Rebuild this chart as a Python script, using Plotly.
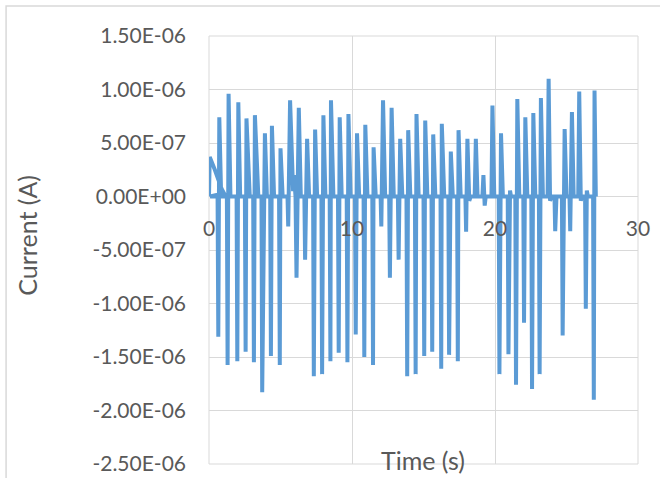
import plotly.graph_objects as go

# Recorded current trace: initial relaxation, then a train of paired
# negative/positive switching spikes separated by a flat baseline.
time_s = [
    0.00, 0.05, 0.42, 0.65, 0.88, 1.05, 0.08,
    0.60, 0.65, 0.72, 0.85,
    1.25, 1.30, 1.37, 1.50,
    1.93, 1.98, 2.05, 2.18,
    2.51, 2.56, 2.62, 2.85,
    3.09, 3.14, 3.21, 3.45,
    3.67, 3.72, 3.91, 4.05,
    4.28, 4.33, 4.40, 4.55,
    4.90, 4.95, 5.00, 5.15,
    5.49, 5.54, 5.67, 5.88, 5.95, 6.05,
    6.12, 6.28, 6.42,
    6.67, 6.72, 6.86, 7.00,
    7.28, 7.33, 7.42, 7.56,
    7.86, 7.91, 8.00, 8.14,
    8.44, 8.49, 8.53, 8.70,
    9.02, 9.07, 9.14, 9.28,
    9.63, 9.68, 9.75, 9.90,
    10.21, 10.26, 10.35, 10.50,
    10.81, 10.86, 10.93, 11.08,
    11.42, 11.47, 11.51, 11.66,
    12.00, 12.05, 12.17, 12.32,
    12.60, 12.65, 12.77, 12.92,
    13.21, 13.26, 13.37, 13.52,
    13.81, 13.86, 13.93, 14.08,
    14.40, 14.45, 14.51, 14.66,
    15.00, 15.05, 15.12, 15.27,
    15.56, 15.61, 15.68, 15.83,
    16.19, 16.24, 16.28, 16.45,
    16.74, 16.79, 16.91, 17.05,
    17.35, 17.40, 17.45, 17.60,
    17.93, 17.98, 18.07, 18.20, 18.30,
    18.58, 18.66, 18.78,
    19.12, 19.19, 19.24, 19.28, 19.35,
    19.75, 19.82, 19.95,
    20.26, 20.31, 20.42, 20.55,
    20.89, 20.94, 21.05, 21.12,
    21.42, 21.47, 21.56, 21.70,
    21.98, 22.03, 22.12, 22.26,
    22.54, 22.59, 22.68, 22.82,
    23.07, 23.12, 23.21, 23.35,
    23.68, 23.75, 23.85, 23.95,
    24.16, 24.21, 24.30,
    24.68, 24.73, 24.87, 25.00,
    25.21, 25.26, 25.38, 25.50,
    25.82, 25.89, 26.00, 26.08,
    26.30, 26.35, 26.42, 26.50,
    26.86, 26.91, 26.96, 27.05, 27.08,
]

current_a = [
    0.0, 3.7e-7, 2.45e-7, 1.5e-7, 0.72e-7, 0.3e-7, 0.0,
    0.0, -1.31e-6, 7.4e-7, 0.0,
    0.0, -1.575e-6, 9.6e-7, 0.0,
    0.0, -1.54e-6, 8.8e-7, 0.0,
    0.0, -1.45e-6, 7.3e-7, 0.0,
    0.0, -1.55e-6, 7.6e-7, 0.0,
    0.0, -1.83e-6, 5.9e-7, 0.0,
    0.0, -1.49e-6, 6.6e-7, 0.0,
    0.0, -1.575e-6, 4.5e-7, 0.0,
    0.0, -2.8e-7, 9.0e-7, 0.5e-7, 2.0e-7, 0.0,
    -7.6e-7, 8.3e-7, 0.0,
    0.0, -5.9e-7, 5.4e-7, 0.0,
    0.0, -1.68e-6, 6.25e-7, 0.0,
    0.0, -1.66e-6, 7.6e-7, 0.0,
    0.0, -1.54e-6, 9.0e-7, 0.0,
    0.0, -1.46e-6, 7.4e-7, 0.0,
    0.0, -1.55e-6, 7.7e-7, 0.0,
    0.0, -1.29e-6, 5.9e-7, 0.0,
    0.0, -1.50e-6, 6.7e-7, 0.0,
    0.0, -1.575e-6, 4.6e-7, 0.0,
    0.0, -2.8e-7, 9.0e-7, 0.0,
    0.0, -7.6e-7, 8.3e-7, 0.0,
    0.0, -5.9e-7, 5.4e-7, 0.0,
    0.0, -1.68e-6, 6.2e-7, 0.0,
    0.0, -1.66e-6, 7.7e-7, 0.0,
    0.0, -1.49e-6, 7.1e-7, 0.0,
    0.0, -1.45e-6, 5.8e-7, 0.0,
    0.0, -1.61e-6, 6.8e-7, 0.0,
    0.0, -1.48e-6, 4.2e-7, 0.0,
    0.0, -1.54e-6, 6.2e-7, 0.0,
    0.0, -3.3e-7, 5.4e-7, -0.4e-7, 0.0,
    0.0, 5.4e-7, 0.0,
    0.0, 2.0e-7, 0.0, -0.85e-7, 0.0,
    0.0, 8.5e-7, 0.0,
    0.0, -1.66e-6, 5.9e-7, 0.0,
    0.0, -1.475e-6, 0.56e-7, 0.0,
    0.0, -1.76e-6, 9.1e-7, 0.0,
    0.0, -1.18e-6, 7.4e-7, 0.0,
    0.0, -1.80e-6, 7.8e-7, 0.0,
    0.0, -1.66e-6, 9.2e-7, 0.0,
    0.0, 1.10e-6, -0.4e-7, 0.0,
    0.0, -3.25e-7, 0.0,
    0.0, -1.30e-6, 6.3e-7, 0.0,
    0.0, -3.25e-7, 7.9e-7, 0.0,
    0.0, 9.8e-7, -0.4e-7, 0.0,
    0.0, -1.05e-6, 0.56e-7, 0.0,
    0.0, -1.90e-6, 9.9e-7, 0.0, 0.0,
]

x_tick_vals = [0, 10, 20, 30]
y_tick_vals = [1.5e-6, 1.0e-6, 5.0e-7, 0.0, -5.0e-7, -1.0e-6, -1.5e-6, -2.0e-6, -2.5e-6]
y_tick_text = ["1.50E-06", "1.00E-06", "5.00E-07", "0.00E+00", "-5.00E-07",
               "-1.00E-06", "-1.50E-06", "-2.00E-06", "-2.50E-06"]

LINE_BLUE = "#5B9BD5"
GRID = "#D9D9D9"
TEXT = "#595959"
FONT = "Lato"

fig = go.Figure()
fig.add_trace(go.Scatter(
    x=time_s, y=current_a, mode="lines",
    line=dict(color=LINE_BLUE, width=4),
    hoverinfo="skip", showlegend=False,
))

fig.update_layout(
    width=660, height=478,
    margin=dict(l=209, r=22, t=36, b=14, autoexpand=False),
    paper_bgcolor="white", plot_bgcolor="white",
    font=dict(family=FONT, color=TEXT),
    xaxis=dict(
        range=[0, 30], tickvals=x_tick_vals,
        showgrid=True, gridcolor=GRID, gridwidth=1,
        zeroline=False, showline=False, ticks="",
        anchor="free", position=0.625, automargin=False,
        tickfont=dict(family=FONT, size=21, color=TEXT),
        ticklabelstandoff=17,
    ),
    yaxis=dict(
        range=[-2.5e-6, 1.5e-6], tickvals=y_tick_vals, ticktext=y_tick_text,
        showgrid=True, gridcolor=GRID, gridwidth=1,
        zeroline=False, showline=False, ticks="", automargin=False,
        tickfont=dict(family=FONT, size=21, color=TEXT),
        ticklabelstandoff=22,
    ),
    shapes=[
        # chart-area frame (left and top edges)
        dict(type="path", xref="paper", yref="paper",
             path="M -0.473 -0.1 L -0.473 1.07 L 1.06 1.07",
             line=dict(color=GRID, width=1.5)),
        # plot-area outline
        dict(type="rect", xref="paper", yref="paper", x0=0, x1=1, y0=0, y1=1,
             line=dict(color=GRID, width=1), layer="below"),
    ],
    annotations=[
        dict(text="Current (A)", xref="paper", yref="paper",
             x=-0.425, y=0.535, textangle=-90, showarrow=False,
             xanchor="center", yanchor="middle",
             font=dict(family=FONT, size=25, color=TEXT)),
        dict(text="Time (s)", xref="paper", yref="paper",
             x=0.499, y=0.01, showarrow=False,
             xanchor="center", yanchor="middle",
             font=dict(family=FONT, size=25, color=TEXT)),
    ],
)

fig.write_html("out.html")
